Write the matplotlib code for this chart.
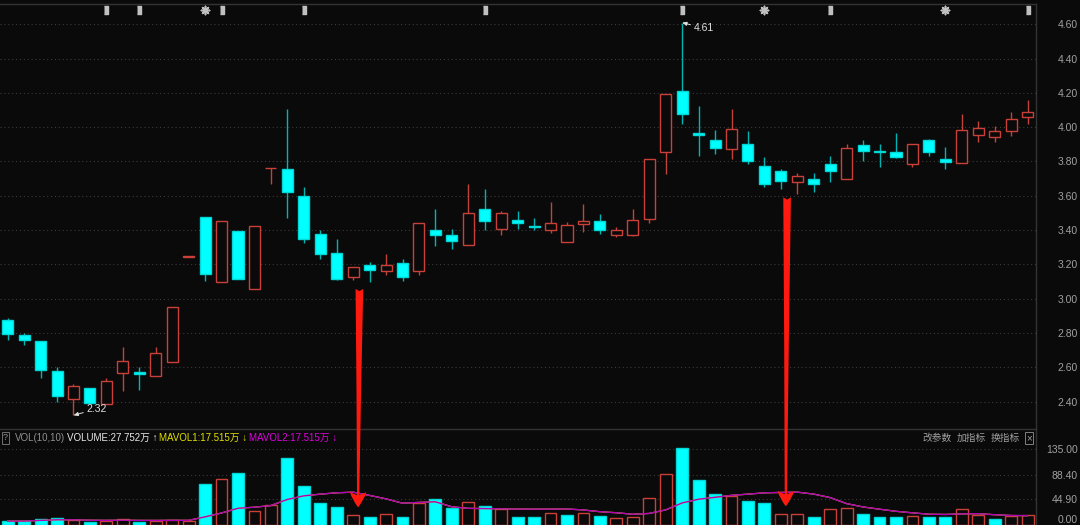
import numpy as np
import pandas as pd
import matplotlib
matplotlib.use("Agg")
import matplotlib.pyplot as plt
from matplotlib.patches import ConnectionPatch

plt.rcParams['font.family'] = ['Liberation Sans', 'Noto Sans CJK SC', 'DejaVu Sans']

# 日K线数据
opens = [2.873, 2.790, 2.751, 2.581, 2.418, 2.477, 2.387, 2.566, 2.570, 2.549,
         2.628, 3.245, 3.478, 3.100, 3.394, 3.058, 3.760, 3.755, 3.600, 3.377,
         3.268, 3.125, 3.196, 3.163, 3.206, 3.163, 3.399, 3.370, 3.316, 3.521,
         3.405, 3.461, 3.422, 3.399, 3.329, 3.435, 3.451, 3.374, 3.374, 3.465,
         3.854, 4.209, 3.965, 3.925, 3.873, 3.902, 3.772, 3.743, 3.680, 3.700,
         3.785, 3.698, 3.894, 3.862, 3.854, 3.784, 3.925, 3.813, 3.790, 3.953,
         3.943, 3.976, 4.061]
highs = [2.888, 2.801, 2.751, 2.599, 2.500, 2.480, 2.539, 2.720, 2.599, 2.720,
         2.950, 3.250, 3.478, 3.453, 3.394, 3.422, 3.760, 4.106, 3.653, 3.399,
         3.346, 3.183, 3.216, 3.261, 3.230, 3.440, 3.521, 3.408, 3.671, 3.640,
         3.510, 3.510, 3.469, 3.562, 3.449, 3.554, 3.492, 3.420, 3.521, 3.812,
         4.194, 4.610, 4.124, 3.984, 4.108, 3.976, 3.824, 3.754, 3.733, 3.733,
         3.832, 3.902, 3.925, 3.902, 3.964, 3.900, 3.933, 3.884, 4.075, 4.038,
         4.007, 4.086, 4.159]
lows = [2.761, 2.728, 2.539, 2.400, 2.320, 2.391, 2.387, 2.462, 2.468, 2.549,
        2.628, 3.245, 3.104, 3.100, 3.114, 3.058, 3.671, 3.472, 3.323, 3.230,
        3.107, 3.107, 3.099, 3.138, 3.105, 3.138, 3.307, 3.290, 3.316, 3.400,
        3.370, 3.408, 3.400, 3.381, 3.329, 3.389, 3.379, 3.360, 3.367, 3.440,
        3.725, 4.017, 3.834, 3.845, 3.816, 3.785, 3.653, 3.641, 3.610, 3.622,
        3.682, 3.698, 3.801, 3.770, 3.819, 3.770, 3.834, 3.755, 3.790, 3.916,
        3.916, 3.947, 4.017]
closes = [2.792, 2.761, 2.583, 2.431, 2.491, 2.391, 2.522, 2.637, 2.562, 2.682,
          2.950, 3.250, 3.143, 3.453, 3.114, 3.422, 3.760, 3.624, 3.348, 3.263,
          3.117, 3.183, 3.169, 3.196, 3.128, 3.440, 3.370, 3.338, 3.498, 3.453,
          3.498, 3.440, 3.418, 3.440, 3.428, 3.451, 3.400, 3.402, 3.459, 3.812,
          4.194, 4.079, 3.955, 3.877, 3.987, 3.801, 3.671, 3.685, 3.714, 3.671,
          3.746, 3.877, 3.863, 3.858, 3.826, 3.900, 3.856, 3.795, 3.984, 3.994,
          3.976, 4.046, 4.087]
# 成交量（万）
volumes = [6.1, 6.1, 9.8, 11.6, 8.0, 4.3, 6.1, 9.8, 4.3, 6.8,
           8.0, 5.5, 72.0, 81.1, 91.6, 23.9, 35.0, 119.3, 68.2, 37.5,
           32.0, 16.6, 14.1, 19.6, 14.1, 38.0, 46.0, 30.0, 40.5, 33.2,
           27.0, 12.9, 12.9, 20.2, 16.6, 20.2, 15.4, 11.1, 13.4, 47.9,
           90.4, 137.0, 79.3, 54.1, 51.6, 41.8, 38.7, 18.4, 18.4, 12.9,
           28.2, 29.4, 19.6, 14.1, 14.1, 14.6, 14.1, 14.1, 28.2, 16.6,
           9.8, 15.4, 16.6]

price_ticks = [2.40, 2.60, 2.80, 3.00, 3.20, 3.40, 3.60, 3.80, 4.00, 4.20, 4.40, 4.60]
vol_ticks = [0.00, 44.90, 88.40, 135.00]

# 信息地雷位置
mine_idx = [6, 8, 13, 18, 29, 41, 50, 62]
star_idx = [12, 46, 57]

# 手绘红色箭头所指的K线
arrow_idx = [21, 47]

BG = '#0a0a0a'
RED = '#c84038'
RED_WICK = '#c0443c'
CYAN = '#00ffff'
CYAN_WICK = '#00b4b4'
GRID = '#3a3a3a'
TXT = '#a0a0a0'

o = np.array(opens)
h = np.array(highs)
l = np.array(lows)
c = np.array(closes)
v = np.array(volumes)
x = np.arange(len(o))
up = c >= o

# 成交量颜色按收盘价与前一日比较
prev_c = np.concatenate([[o[0]], c[:-1]])
vol_up = c >= prev_c
mavol = pd.Series(v).rolling(10, min_periods=1).mean().values

fig = plt.figure(figsize=(10.8, 5.25), dpi=100, facecolor=BG)
W, H = 1080.0, 525.0
right = 1036 / W
ax = fig.add_axes([0, (H - 428.5) / H, right, (428.5 - 3.5) / H], facecolor=BG)
axv = fig.add_axes([0, 0, right, (H - 429) / H], facecolor=BG, sharex=ax)

# K线
ax.vlines(x, l, h, colors=[RED_WICK if u else CYAN_WICK for u in up], linewidth=1.0, zorder=2)
body_bottom = np.minimum(o, c)
body_h = np.maximum(np.abs(c - o), 0.002)
ax.bar(x, body_h, bottom=body_bottom, width=0.67,
       color=[BG if u else CYAN for u in up],
       edgecolor=[RED if u else '#00d8d8' for u in up],
       linewidth=1.0, zorder=3)

ax.set_xlim(-0.468, 62.51)
ax.set_ylim(2.2431, 4.7213)
ax.set_yticks(price_ticks)
ax.set_yticklabels([f'{p:.2f}' for p in price_ticks])
ax.yaxis.tick_right()
ax.tick_params(axis='y', length=0, pad=30, labelsize=7.5, labelcolor=TXT)
for t in ax.get_yticklabels():
    t.set_horizontalalignment('right')
ax.tick_params(axis='x', bottom=False, labelbottom=False)
for yv in price_ticks:
    ax.axhline(yv, color=GRID, linewidth=0.8, linestyle=(0, (1, 2.5)), zorder=1)

for s in ['left', 'bottom']:
    ax.spines[s].set_visible(False)
for s in ['top', 'right']:
    ax.spines[s].set_color('#333333')
    ax.spines[s].set_linewidth(1.0)

# 最高最低价标注
hi = int(np.argmax(h))
lo = int(np.argmin(l))
ax.annotate(f'{h[hi]:.2f}', xy=(hi, h[hi]), xytext=(8, -4), textcoords='offset points',
            color='#e0e0e0', fontsize=7.5, ha='left', va='center',
            arrowprops=dict(arrowstyle='-|>,head_length=0.35,head_width=0.15',
                            color='#e0e0e0', lw=0.7, shrinkA=0, shrinkB=0))
ax.annotate(f'{l[lo]:.2f}', xy=(lo, l[lo]), xytext=(9, 4.5), textcoords='offset points',
            color='#e0e0e0', fontsize=7.5, ha='left', va='center',
            arrowprops=dict(arrowstyle='-|>,head_length=0.35,head_width=0.15',
                            color='#e0e0e0', lw=0.7, shrinkA=0, shrinkB=0))

# 信息地雷
mine_y = 4.686
ax.scatter(mine_idx, [mine_y] * len(mine_idx), s=30, color='#c0c0c0',
           marker=[(-0.45, -1), (0.45, -1), (0.45, 1), (-0.45, 1)], zorder=4)
ax.scatter(star_idx, [mine_y] * len(star_idx), s=34, color='#c0c0c0',
           marker=(8, 2, 0), linewidths=1.2, zorder=4)

# 成交量
axv.bar(x, v, width=0.72,
        color=[BG if u else CYAN for u in vol_up],
        edgecolor=[RED if u else '#00d8d8' for u in vol_up],
        linewidth=1.0, zorder=3)
axv.plot(x, mavol, color='#d8d800', linewidth=0.9, zorder=4)
axv.plot(x, mavol, color='#b000b8', linewidth=1.0, zorder=5)
axv.set_ylim(-0.89, 170.5)
axv.set_yticks(vol_ticks)
axv.set_yticklabels([f'{t:.2f}' for t in vol_ticks])
axv.yaxis.tick_right()
axv.tick_params(axis='y', length=0, pad=30, labelsize=7.5, labelcolor=TXT)
for t in axv.get_yticklabels():
    t.set_horizontalalignment('right')
axv.get_yticklabels()[0].set_verticalalignment('bottom')
axv.tick_params(axis='x', bottom=False, labelbottom=False)
for yv in vol_ticks[1:]:
    axv.axhline(yv, color=GRID, linewidth=0.8, linestyle=(0, (1, 2.5)), zorder=1)
for s in ['left', 'bottom']:
    axv.spines[s].set_visible(False)
for s in ['top', 'right']:
    axv.spines[s].set_color('#333333')
    axv.spines[s].set_linewidth(1.0)

# 指标标题
ty = (H - 438) / H
fig.text(3 / W, ty, '?', color='#909090', fontsize=6.5, va='center', ha='left',
         bbox=dict(boxstyle='square,pad=0.15', fc=BG, ec='#707070', lw=0.7))
fig.text(15 / W, ty, 'VOL(10,10)', color='#909090', fontsize=7, va='center')
fig.text(67 / W, ty, 'VOLUME:27.752万 ↑', color='#e8e8e8', fontsize=7, va='center')
fig.text(159 / W, ty, 'MAVOL1:17.515万 ↓', color='#e0e000', fontsize=7, va='center')
fig.text(249 / W, ty, 'MAVOL2:17.515万 ↓', color='#e000e0', fontsize=7, va='center')
fig.text(922 / W, ty, '改参数', color=TXT, fontsize=7, va='center')
fig.text(957 / W, ty, '加指标', color=TXT, fontsize=7, va='center')
fig.text(991 / W, ty, '换指标', color=TXT, fontsize=7, va='center')
fig.text(1026 / W, ty, '×', color=TXT, fontsize=7, va='center',
         bbox=dict(boxstyle='square,pad=0.12', fc=BG, ec='#808080', lw=0.7))

# 红色箭头
for i in arrow_idx:
    con = ConnectionPatch(xyA=(i + 0.38, l[i] - 0.05), coordsA=ax.transData,
                          xyB=(i + 0.3, v[i] + 14), coordsB=axv.transData,
                          arrowstyle='fancy,head_length=1.1,head_width=1.2,tail_width=0.55',
                          mutation_scale=10, color='#ff1a10', lw=0, zorder=10)
    fig.add_artist(con)

fig.savefig('out.png', dpi=100, facecolor=BG)
